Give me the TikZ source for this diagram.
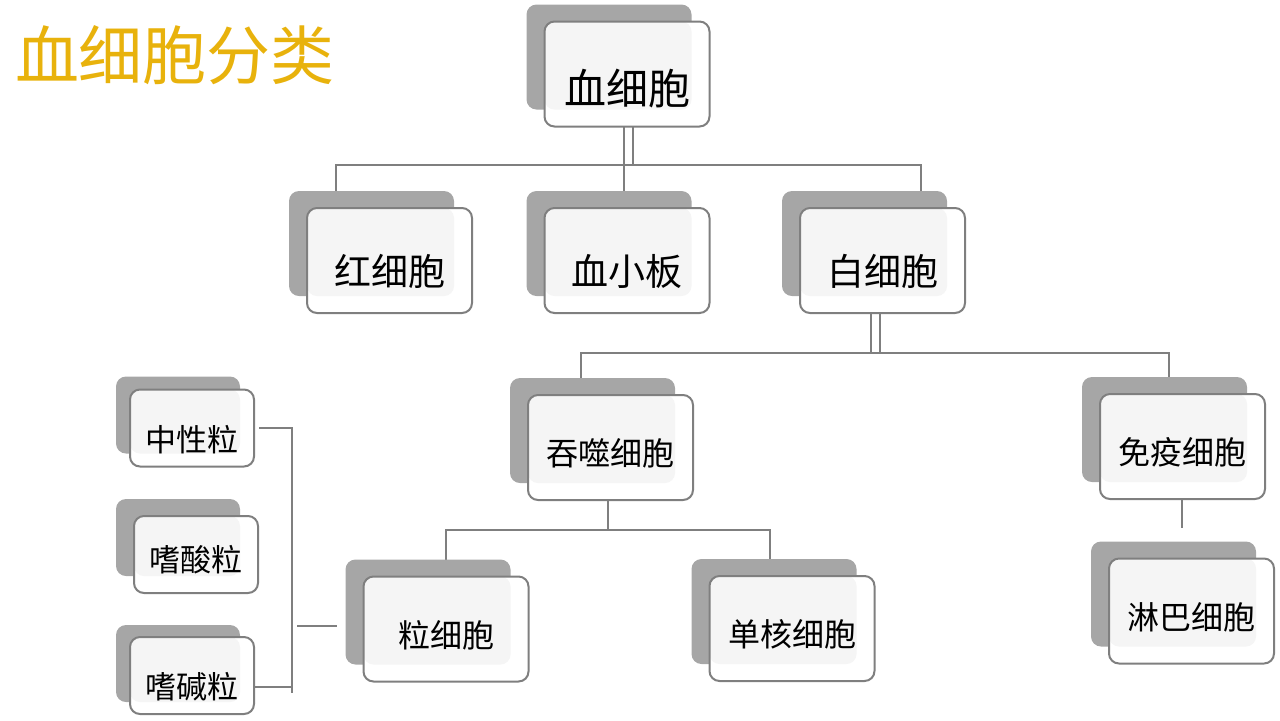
\documentclass[tikz,border=0pt]{standalone}
\usepackage{fontspec}
\newfontfamily\cjk{Noto Sans CJK SC}
\usetikzlibrary{backgrounds}

\definecolor{backgray}{HTML}{A6A6A6}
\definecolor{edgegray}{HTML}{7F7F7F}
\definecolor{lightfill}{HTML}{F5F5F5}
\definecolor{titlegold}{RGB}{232,178,12}

\tikzset{
  cell/.style={draw=edgegray, line width=1pt, rounded corners=5pt, inner sep=0pt, outer sep=0pt,
    minimum width=82.5pt, minimum height=52.5pt, text depth=2pt, text height=20.3pt,
    font=\cjk\fontsize{16pt}{16pt}\selectfont},
  big cell/.style={cell, text height=26.8pt, text depth=2.2pt, font=\cjk\fontsize{18.5pt}{18.5pt}\selectfont},
  small cell/.style={cell, minimum width=62pt, minimum height=38.5pt, text height=25.6pt, text depth=1.9pt,
    font=\cjk\fontsize{15.5pt}{15.5pt}\selectfont},
  link/.style={draw=edgegray, line width=1.4pt}
}

\begin{document}
\begin{tikzpicture}[x=0.5pt, y=-0.5pt]
					\useasboundingbox (0,0) rectangle (1280,720);
					\node[font=\cjk\fontsize{32pt}{32pt}\selectfont, text=titlegold] (title) at (175,55) {血细胞分类};
					
					% boxes
					\node[big cell, text height=32.5pt, text depth=2.5pt, font=\cjk\fontsize{21pt}{21pt}\selectfont] (root) at (627,74) {血细胞};
					\node[big cell] (rbc) at (389.5,260.5) {红细胞};
					\node[big cell] (plt) at (627,260.5) {血小板};
					\node[big cell] (wbc) at (882.5,260.5) {白细胞};
					\node[cell, text height=19.6pt] (phago) at (610.5,447.5) {吞噬细胞};
					\node[cell] (immune) at (1182.5,446.5) {免疫细胞};
					\node[cell] (gran) at (446,629) {粒细胞};
					\node[cell] (mono) at (792,628.5) {单核细胞};
					\node[cell, text height=20.6pt] (lymph) at (1191.5,611) {淋巴细胞};
					\node[small cell] (neut) at (192,428) {中性粒};
					\node[small cell, text height=19.1pt] (eos) at (196,554.5) {嗜酸粒};
					\node[small cell, text height=25.1pt] (baso) at (192,675.5) {嗜碱粒};
					
					\coordinate (bus1) at (624,165);
					\coordinate (bus2) at (875,353);
					\coordinate (bus3) at (608,530);
					\coordinate (brtop) at (292,428);
					\coordinate (brbot) at (292,693);
					\coordinate (brmid) at (297,626);
					
					\begin{scope}[on background layer]
						% connectors
						\draw[link] ([xshift=-1.5pt]root.south) -- ++(0,39) ([xshift=3pt]root.south) -- ++(0,39);
						\draw[link] (rbc.north -| 336,0) |- (bus1) -| (wbc.north -| 921,0);
						\draw[link] (bus1) -- (plt.north -| bus1);
						\draw[link] ([xshift=-5.75pt]wbc.south) -- ++(0,40) ([xshift=-1.25pt]wbc.south) -- ++(0,40);
						\draw[link] (phago.north -| 581,0) |- (bus2) -| (immune.north -| 1169,0);
						\draw[link] (phago.south -| bus3) -- (bus3);
						\draw[link] (gran.north) |- (bus3) -| (mono.north -| 770,0);
						\draw[link, shorten >=15.5pt] (immune.south -| 1182,0) -- (lymph.north -| 1182,0);
						\draw[link, shorten <=2.5pt] (neut.east) -- (brtop) -- (brbot);
						\draw[link] (baso.east |- 0,687) -- (brbot |- 0,687);
						\draw[link, shorten >=13.5pt] (brmid) -- (gran.west |- brmid);
						
						% back cards
						\foreach \n/\dx/\dy in {root/-9/8.5, rbc/-9/8.5, plt/-9/8.5, wbc/-9/8.5, phago/-9/8.5,
							immune/-9/8.5, gran/-9/8.5, mono/-9/8.5, lymph/-9/8.5, neut/-7/6.5, eos/-9/8.5, baso/-7/6}{
							\fill[backgray, rounded corners=5pt] ([shift={(\dx pt,\dy pt)}]\n.north west) rectangle ([shift={(\dx pt,\dy pt)}]\n.south east);
							\fill[white, rounded corners=5pt] (\n.north west) rectangle (\n.south east);
							\fill[lightfill, rounded corners=5pt] (\n.north west) rectangle ([shift={(\dx pt,\dy pt)}]\n.south east);
						}
					\end{scope}
				\end{tikzpicture}
\end{document}
